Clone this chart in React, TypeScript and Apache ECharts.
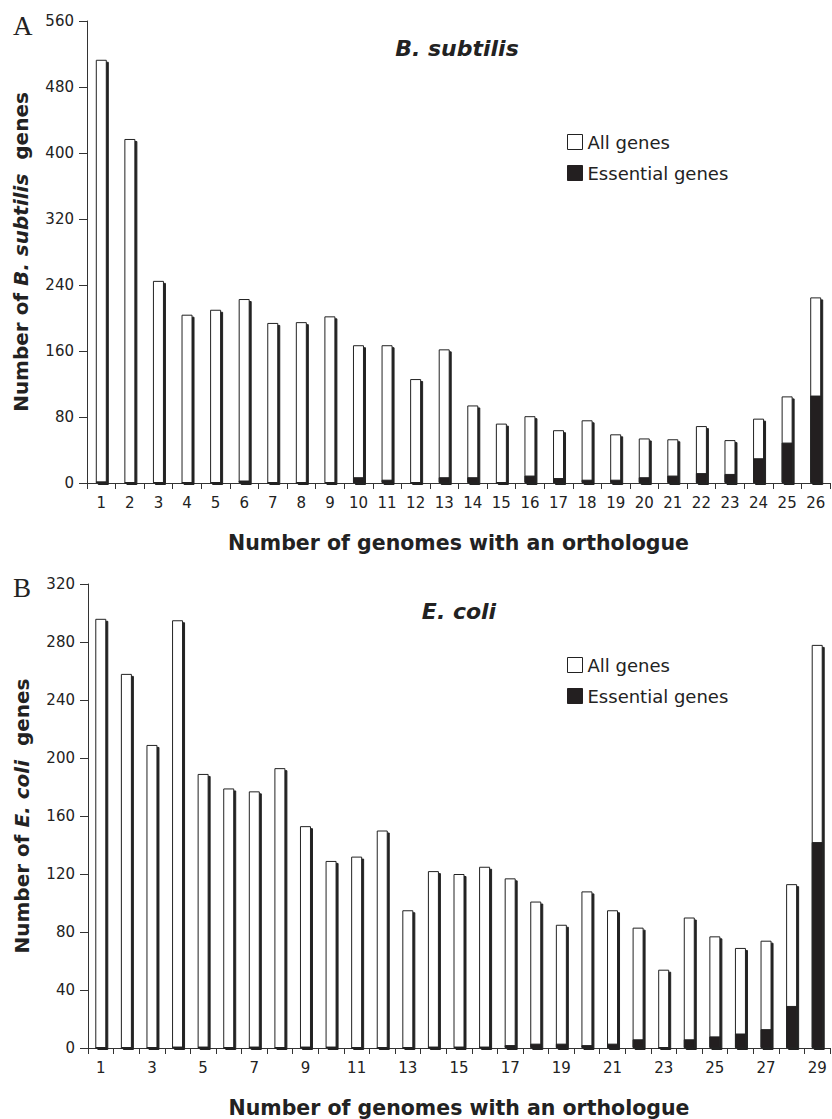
import React, { useEffect, useRef } from "react";
import * as echarts from "echarts";

const topCategories = ["1","2","3","4","5","6","7","8","9","10","11","12","13","14","15","16","17","18","19","20","21","22","23","24","25","26"];
const topAllGenes = [513, 417, 245, 204, 210, 223, 194, 195, 202, 167, 167, 126, 162, 94, 72, 81, 64, 76, 59, 54, 53, 69, 52, 78, 105, 225];
const topEssentialGenes = [2, 0, 1, 0, 1, 3, 0, 0, 1, 7, 4, 0, 7, 7, 0, 9, 6, 4, 4, 7, 9, 12, 11, 30, 49, 106];
const topYTicks = { min: 0, max: 560, interval: 80 };

const botCategories = ["1","2","3","4","5","6","7","8","9","10","11","12","13","14","15","16","17","18","19","20","21","22","23","24","25","26","27","28","29"];
const botAllGenes = [296, 258, 209, 295, 189, 179, 177, 193, 153, 129, 132, 150, 95, 122, 120, 125, 117, 101, 85, 108, 95, 83, 54, 90, 77, 69, 74, 113, 278];
const botEssentialGenes = [0, 0, 0, 1, 1, 0, 1, 0, 1, 1, 0, 0, 0, 1, 1, 1, 2, 3, 3, 2, 3, 6, 0, 6, 8, 10, 13, 29, 142];
const botYTicks = { min: 0, max: 320, interval: 40 };

const FONT = "DejaVu Sans";
const INK = "#222";

export default function App() {
  const ref = useRef<HTMLDivElement>(null);
  useEffect(() => {
    if (!ref.current) return;
    const chart = echarts.init(ref.current, null, { renderer: "svg" });

    const xAxisBase = (gridIndex: number, data: string[], labelInterval: number) => ({
      type: "category",
      gridIndex,
      data,
      boundaryGap: true,
      axisLine: { show: true, lineStyle: { color: "#333", width: 1 } },
      axisTick: { show: true, interval: 0, length: 6, inside: false, alignWithLabel: false, lineStyle: { color: "#333" } },
      axisLabel: { interval: labelInterval, color: INK, fontFamily: FONT, fontSize: 15, margin: 12 },
      splitLine: { show: false },
      name: "Number of genomes with an orthologue",
      nameLocation: "middle",
      nameGap: 49,
      nameTextStyle: { fontFamily: FONT, fontWeight: "bold", fontSize: 20.5, color: INK },
    });

    const yAxisBase = (gridIndex: number, ticks: { min: number; max: number; interval: number }, species: string) => ({
      type: "value",
      gridIndex,
      min: ticks.min,
      max: ticks.max,
      interval: ticks.interval,
      axisLine: { show: true, lineStyle: { color: "#333", width: 1 } },
      axisTick: { show: true, length: 8, lineStyle: { color: "#333" } },
      axisLabel: { color: INK, fontFamily: FONT, fontSize: 15, margin: 13 },
      splitLine: { show: false },
      name: `{b|Number of }{i|${species}}{b|  genes}`,
      nameLocation: "middle",
      nameRotate: 90,
      nameGap: 56,
      nameTextStyle: {
        fontFamily: FONT,
        fontSize: 20,
        color: INK,
        rich: {
          b: { fontFamily: FONT, fontWeight: "bold", fontSize: 20, color: INK },
          i: { fontFamily: FONT, fontWeight: "bold", fontStyle: "italic", fontSize: 20, color: INK },
        },
      },
    });

    const barStyleAll = {
      color: "#ffffff",
      borderColor: "#222",
      borderWidth: 1,
      shadowColor: "#222",
      shadowBlur: 0,
      shadowOffsetX: 2,
      shadowOffsetY: 2,
    };
    const barStyleEss = {
      color: "#231f20",
      borderColor: "#222",
      borderWidth: 1,
    };

    const legendBase = (top: number) => ({
      orient: "vertical",
      left: 562,
      top,
      itemWidth: 15,
      itemHeight: 15,
      itemGap: 13,
      icon: "rect",
      selectedMode: false,
      textStyle: { fontFamily: FONT, fontSize: 18, color: INK },
      data: [
        { name: "All genes", itemStyle: { color: "#fff", borderColor: "#222", borderWidth: 1 } },
        { name: "Essential genes", itemStyle: { color: "#231f20", borderColor: "#231f20", borderWidth: 1 } },
      ],
    });

    const option = {
      animation: false,
      backgroundColor: "#fff",
      grid: [
        { left: 87, top: 21, width: 743, height: 462, containLabel: false },
        { left: 88, top: 584, width: 742, height: 475, containLabel: false },
      ],
      xAxis: [xAxisBase(0, topCategories, 0), xAxisBase(1, botCategories, 1)],
      yAxis: [yAxisBase(0, topYTicks, "B. subtilis"), yAxisBase(1, botYTicks, "E. coli")],
      legend: [legendBase(128), legendBase(651)],
      series: [
        { type: "bar", name: "All genes", xAxisIndex: 0, yAxisIndex: 0, data: topAllGenes, barWidth: 11, barGap: "-100%", itemStyle: barStyleAll },
        { type: "bar", name: "Essential genes", xAxisIndex: 0, yAxisIndex: 0, data: topEssentialGenes, barWidth: 11, barGap: "-100%", itemStyle: barStyleEss },
        { type: "bar", name: "All genes", xAxisIndex: 1, yAxisIndex: 1, data: botAllGenes, barWidth: 11, barGap: "-100%", itemStyle: barStyleAll },
        { type: "bar", name: "Essential genes", xAxisIndex: 1, yAxisIndex: 1, data: botEssentialGenes, barWidth: 11, barGap: "-100%", itemStyle: barStyleEss },
      ],
      graphic: [
        { type: "text", left: 13, top: 12, style: { text: "A", font: "27px 'Liberation Serif'", fill: INK } },
        { type: "text", left: 13, top: 574, style: { text: "B", font: "27px 'Liberation Serif'", fill: INK } },
        { type: "text", x: 457, y: 48, style: { text: "B. subtilis", font: `italic bold 22px '${FONT}'`, fill: INK, textAlign: "center", textVerticalAlign: "middle" } },
        { type: "text", x: 459, y: 611, style: { text: "E. coli", font: `italic bold 22px '${FONT}'`, fill: INK, textAlign: "center", textVerticalAlign: "middle" } },
      ],
    };

    chart.setOption(option as any);
    return () => chart.dispose();
  }, []);

  return <div ref={ref} style={{ position: "absolute", left: 0, top: 0, width: 832, height: 1119 }} />;
}
